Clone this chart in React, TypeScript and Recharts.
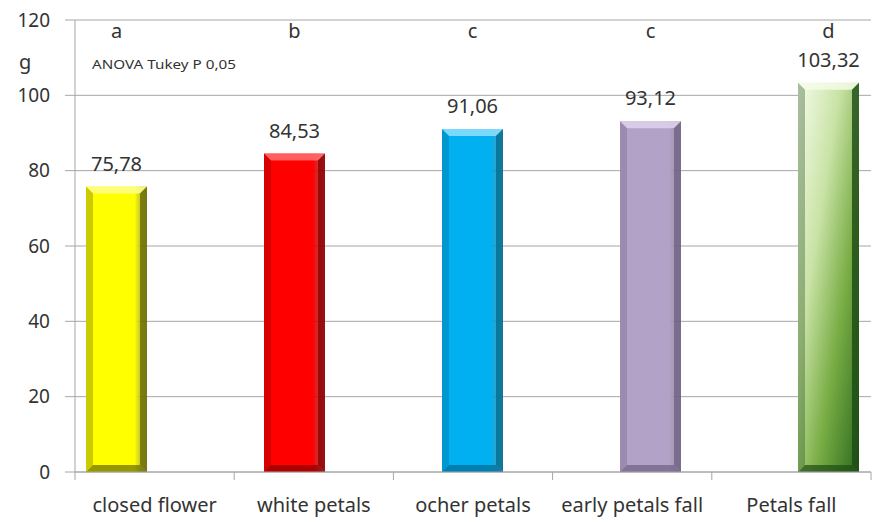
import React from 'react';
import { BarChart, Bar, XAxis, YAxis, CartesianGrid, LabelList } from 'recharts';

const categories = ['closed flower', 'white petals', 'ocher petals', 'early petals fall', 'Petals fall'];
const weights = [75.78, 84.53, 91.06, 93.12, 103.32];
const groups = ['a', 'b', 'c', 'c', 'd'];
const yTicks = [0, 20, 40, 60, 80, 100, 120];

// main colour, light edge, dark edge
const barColors = ['#ffff00', '#ff0000', '#00b0f0', '#b3a2c7', '#7fb24a'];
const barLight = ['#ffff8c', '#ff7070', '#8fe0ff', '#ddd2ec', '#f4fbe6'];
const barDark = ['#6b6b00', '#8c0000', '#006b94', '#6e6083', '#1c4a14'];

const data = categories.map((name, i) => ({
  name,
  idx: i,
  weight: weights[i],
  group: groups[i],
}));

const W = 885;
const H = 526;
const FONT = '"Noto Sans", "Open Sans", sans-serif';
const GRID = '#a6a6a6';
const TXT = '#333333';
const PLOT_BOTTOM = 472;

const BevelBar = (props: any) => {
  const { x, y, width: w, height: h, index } = props;
  if (h == null || h <= 0) return null;
  const b = 7;
  const i = index ?? 0;
  const id = `bargrad-${i}`;
  const green = i === 4;
  return (
    <g>
      <defs>
        {green ? (
          <linearGradient id={id} x1="0" y1="0" x2="1" y2="1">
            <stop offset="0%" stopColor="#f6fcec" />
            <stop offset="35%" stopColor="#c9e3a6" />
            <stop offset="65%" stopColor="#79ad45" />
            <stop offset="100%" stopColor="#2c6b1e" />
          </linearGradient>
        ) : (
          <linearGradient id={id} x1="0" y1="0" x2="1" y2="0">
            <stop offset="0%" stopColor={barColors[i]} />
            <stop offset="80%" stopColor={barColors[i]} />
            <stop offset="100%" stopColor={barDark[i]} stopOpacity={0.6} />
          </linearGradient>
        )}
      </defs>
      <rect x={x} y={y} width={w} height={h} fill={`url(#${id})`} />
      {/* top bevel */}
      <polygon
        points={`${x},${y} ${x + w},${y} ${x + w - b},${y + b} ${x + b},${y + b}`}
        fill={barLight[i]}
        opacity={0.85}
      />
      {/* right bevel */}
      <polygon
        points={`${x + w},${y} ${x + w},${y + h} ${x + w - b},${y + h - b} ${x + w - b},${y + b}`}
        fill={barDark[i]}
        opacity={0.8}
      />
      {/* bottom bevel */}
      <polygon
        points={`${x},${y + h} ${x + w},${y + h} ${x + w - b},${y + h - b} ${x + b},${y + h - b}`}
        fill={barDark[i]}
        opacity={0.7}
      />
      {/* left bevel */}
      <polygon
        points={`${x},${y} ${x + b},${y + b} ${x + b},${y + h - b} ${x},${y + h}`}
        fill={barDark[i]}
        opacity={0.35}
      />
    </g>
  );
};

const CategoryTick = (props: any) => {
  const { x, payload } = props;
  const half = payload.offset ?? 796 / categories.length / 2;
  const last = payload.index === categories.length - 1;
  return (
    <g>
      <line x1={x - half} x2={x - half} y1={PLOT_BOTTOM} y2={PLOT_BOTTOM + 8} stroke={GRID} />
      {last && <line x1={x + half} x2={x + half} y1={PLOT_BOTTOM} y2={PLOT_BOTTOM + 8} stroke={GRID} />}
      <text x={x} y={PLOT_BOTTOM + 40} textAnchor="middle" fill={TXT} fontSize={20} fontFamily={FONT}>
        {payload.value}
      </text>
    </g>
  );
};

const GroupLetter = (props: any) => {
  const { x, width, value } = props;
  return (
    <text x={x + width / 2} y={38} textAnchor="middle" fill={TXT} fontSize={20} fontFamily={FONT}>
      {value}
    </text>
  );
};

export default function App() {
  return (
    <div style={{ position: 'absolute', left: 0, top: 0, width: W, height: H, background: '#fff' }}>
      <BarChart width={W} height={H} data={data} margin={{ top: 20, right: 14, left: 0, bottom: 0 }}>
        <CartesianGrid xAxisId="cat" vertical={false} stroke={GRID} />
        <XAxis
          xAxisId="cat"
          dataKey="name"
          height={54}
          axisLine={{ stroke: GRID }}
          tickLine={false}
          tickSize={8}
          tickMargin={0}
          tick={<CategoryTick />}
          interval={0}
        />
        <XAxis xAxisId="bars" type="number" dataKey="idx" domain={[-0.236, 4.236]} height={0} hide />
        <YAxis
          domain={[0, 120]}
          ticks={yTicks}
          width={75}
          axisLine={{ stroke: GRID }}
          tickLine={{ stroke: GRID }}
          tickSize={10}
          tickMargin={15}
          tick={{ fill: TXT, fontSize: 19, fontFamily: FONT }}
        />
        <Bar xAxisId="bars" dataKey="weight" barSize={61} shape={<BevelBar />} isAnimationActive={false}>
          <LabelList
            dataKey="weight"
            position="top"
            offset={16}
            fill={TXT}
            fontSize={20}
            fontFamily={FONT}
            formatter={(v: any) => Number(v).toFixed(2).replace('.', ',')}
          />
          <LabelList dataKey="group" content={<GroupLetter />} />
        </Bar>
      </BarChart>
      <div style={{ position: 'absolute', left: 19, top: 48, fontSize: 20, fontFamily: FONT, color: TXT }}>g</div>
      <div
        style={{
          position: 'absolute',
          left: 92,
          top: 56,
          fontSize: 12,
          fontFamily: FONT,
          color: TXT,
          whiteSpace: 'nowrap',
          transform: 'scaleX(1.27)',
          transformOrigin: 'left top',
        }}
      >
        ANOVA Tukey P 0,05
      </div>
    </div>
  );
}
